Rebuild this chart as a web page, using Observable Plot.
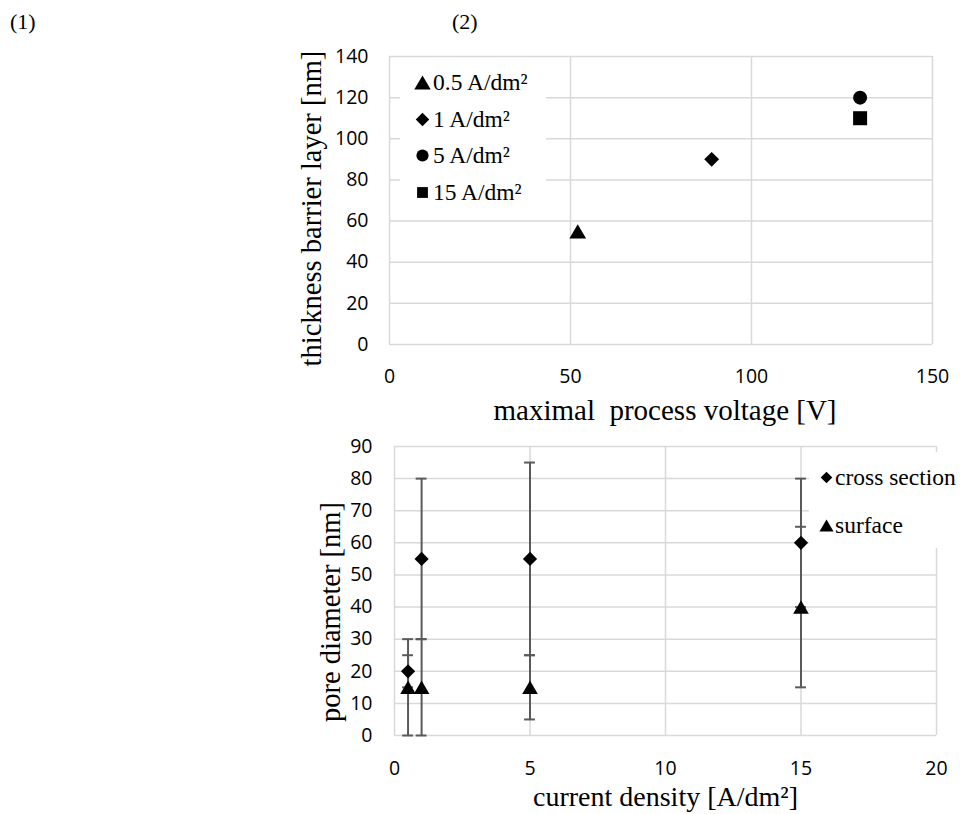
<!DOCTYPE html>
<html><head><meta charset="utf-8">
<script src="https://cdn.jsdelivr.net/npm/d3@7"></script>
<script src="https://cdn.jsdelivr.net/npm/@observablehq/plot@0.6"></script>
<style>
body{margin:0;background:#fff;}
#wrap{position:relative;width:960px;height:814px;overflow:hidden;background:#fff;}
.panel{position:absolute;font-family:"Liberation Serif",serif;font-size:22px;line-height:22px;color:#000;}
.lgbox{position:absolute;background:#fff;box-sizing:border-box;}
.lgt-swatches,.lgb-swatches{font-family:"Liberation Serif",serif !important;font-size:23.5px !important;color:#000;margin:0 !important;}
.lgt-swatch{height:36.4px;padding-bottom:0 !important;}
.lgb-swatch{height:48px;padding-bottom:0 !important;}
.lgt-swatch > svg{margin-right:3.5px !important;}
.lgb-swatch > svg{margin-right:1.5px !important;}
</style></head><body><div id="wrap"></div>
<script>
// ---------- data ----------
const panelLabels = ["(1)", "(2)"];

// chart (1)
const currentLabels = ["0.5 A/dm²", "1 A/dm²", "5 A/dm²", "15 A/dm²"];
const maxVoltage = [52, 89, 130, 130];
const barrierThickness = [55, 90, 120, 110];
const voltageTicks = [0, 50, 100, 150];
const thicknessTicks = [0, 20, 40, 60, 80, 100, 120, 140];
const xTitle1 = "maximal\u00a0 process voltage [V]";
const yTitle1 = "thickness barrier layer [nm]";

// chart (2)
const seriesNames = ["cross section", "surface"];
const currentDensity = [0.5, 1, 5, 15];
const crossMean = [20, 55, 55, 60];
const crossErr = [5, 25, 30, 20];
const surfaceMean = [15, 15, 15, 40];
const surfaceErr = [15, 15, 10, 25];
const densityTicks = [0, 5, 10, 15, 20];
const poreTicks = [0, 10, 20, 30, 40, 50, 60, 70, 80, 90];
const xTitle2 = "current density [A/dm²]";
const yTitle2 = "pore diameter [nm]";

// ---------- style ----------
const SANS = "'Open Sans', 'Noto Sans', sans-serif";
const SERIF = "'Liberation Serif', 'DejaVu Serif', serif";
const GRID = "#d9d9d9";
const ERR = "#5a5a5a";
const triBox = {draw(ctx, size) {
  const s = Math.sqrt(size * 4 / Math.sqrt(3));
  const h = s * Math.sqrt(3) / 2;
  ctx.moveTo(0, -h / 2); ctx.lineTo(s / 2, h / 2); ctx.lineTo(-s / 2, h / 2); ctx.closePath();
}};
const sym1 = [triBox, "diamond2", "circle", "square"];
const r1 = [6.2, 6.7, 7, 7.9];
const sym2 = ["diamond2", triBox];

const wrap = document.getElementById("wrap");
panelLabels.forEach((t, i) => {
  const d = document.createElement("div");
  d.className = "panel";
  d.textContent = t;
  d.style.left = (i === 0 ? 10 : 452) + "px";
  d.style.top = "11px";
  wrap.appendChild(d);
});

// ---------- chart 1 ----------
const rows1 = currentLabels.map((label, i) => ({label, v: maxVoltage[i], t: barrierThickness[i]}));
const p1 = Plot.plot({
  width: 960, height: 430,
  marginLeft: 389, marginRight: 28, marginTop: 56, marginBottom: 86,
  style: {fontFamily: SANS, fontSize: "19.5px", color: "#000", background: "transparent", overflow: "visible"},
  x: {domain: [0, 150], label: null},
  y: {domain: [0, 140], label: null},
  symbol: {domain: currentLabels, range: sym1},
  marks: [
    Plot.gridX({ticks: voltageTicks, stroke: GRID, strokeOpacity: 1, strokeWidth: 1.5}),
    Plot.gridY({ticks: thicknessTicks, stroke: GRID, strokeOpacity: 1, strokeWidth: 1.5}),
    Plot.axisX({ticks: voltageTicks, tickSize: 0, tickPadding: 25, label: null, tickFormat: d => d}),
    Plot.axisY({ticks: thicknessTicks, tickSize: 0, tickPadding: 21, label: null, tickFormat: d => d}),
    ...currentLabels.map((lab, i) => Plot.dot(rows1.filter(d => d.label === lab),
      {x: "v", y: "t", symbol: "label", fill: "#000", stroke: "none", r: r1[i]})),
    Plot.text([xTitle1], {text: d => d, frameAnchor: "bottom", lineAnchor: "middle", textAnchor: "middle", dy: 66, dx: 4, fontFamily: SERIF, fontSize: 29}),
    Plot.text([yTitle1], {text: d => d, frameAnchor: "left", lineAnchor: "middle", textAnchor: "middle", dx: -78, dy: 8, rotate: -90, fontFamily: SERIF, fontSize: 28.5})
  ]
});
p1.style.position = "absolute"; p1.style.left = "0px"; p1.style.top = "0px";
wrap.appendChild(p1);

const lg1 = Plot.legend({
  symbol: {domain: currentLabels, range: sym1},
  fill: "#000", r: 6.5, columns: 1, className: "lgt", swatchSize: 15
});
const box1 = document.createElement("div");
box1.className = "lgbox";
Object.assign(box1.style, {left: "400px", top: "60px", width: "146px", height: "150px", paddingLeft: "14.5px", paddingTop: "4.8px"});
box1.appendChild(lg1);
wrap.appendChild(box1);

// ---------- chart 2 ----------
const rowsC = currentDensity.map((x, i) => ({x, y: crossMean[i], lo: crossMean[i] - crossErr[i], hi: crossMean[i] + crossErr[i]}));
const rowsS = currentDensity.map((x, i) => ({x, y: surfaceMean[i], lo: surfaceMean[i] - surfaceErr[i], hi: surfaceMean[i] + surfaceErr[i]}));
const allRows = rowsC.concat(rowsS);
const cap = 0.2;
const p2 = Plot.plot({
  width: 960, height: 384,
  marginLeft: 394, marginRight: 24, marginTop: 16, marginBottom: 79,
  style: {fontFamily: SANS, fontSize: "19.5px", color: "#000", background: "transparent", overflow: "visible"},
  x: {domain: [0, 20], label: null},
  y: {domain: [0, 90], label: null},
  marks: [
    Plot.gridX({ticks: densityTicks, stroke: GRID, strokeOpacity: 1, strokeWidth: 1.5}),
    Plot.gridY({ticks: poreTicks, stroke: GRID, strokeOpacity: 1, strokeWidth: 1.5}),
    Plot.axisX({ticks: densityTicks, tickSize: 0, tickPadding: 26, label: null, tickFormat: d => d}),
    Plot.axisY({ticks: poreTicks, tickSize: 0, tickPadding: 22, label: null, tickFormat: d => d}),
    Plot.ruleX(allRows, {x: "x", y1: "lo", y2: "hi", stroke: ERR, strokeWidth: 2}),
    Plot.ruleY(allRows, {y: "hi", x1: d => d.x - cap, x2: d => d.x + cap, stroke: ERR, strokeWidth: 2}),
    Plot.ruleY(allRows, {y: "lo", x1: d => d.x - cap, x2: d => d.x + cap, stroke: ERR, strokeWidth: 2}),
    Plot.dot(rowsC, {x: "x", y: "y", symbol: () => sym2[0], fill: "#000", stroke: "none", r: 6.4}),
    Plot.dot(rowsS, {x: "x", y: "y", symbol: () => sym2[1], fill: "#000", stroke: "none", r: 5.8}),
    Plot.text([xTitle2], {text: d => d, frameAnchor: "bottom", lineAnchor: "middle", textAnchor: "middle", dy: 62, fontFamily: SERIF, fontSize: 28}),
    Plot.text([yTitle2], {text: d => d, frameAnchor: "left", lineAnchor: "middle", textAnchor: "middle", dx: -64, dy: 21, rotate: -90, fontFamily: SERIF, fontSize: 28.5})
  ]
});
p2.style.position = "absolute"; p2.style.left = "0px"; p2.style.top = "430px";
wrap.appendChild(p2);

const lg2 = Plot.legend({
  symbol: {domain: seriesNames, range: sym2},
  fill: "#000", r: 5.6, columns: 1, className: "lgb", swatchSize: 15
});
const box2 = document.createElement("div");
box2.className = "lgbox";
Object.assign(box2.style, {left: "809px", top: "452px", width: "151px", height: "96px", paddingLeft: "9.5px", paddingTop: "1px"});
box2.appendChild(lg2);
wrap.appendChild(box2);
</script>
</body></html>
